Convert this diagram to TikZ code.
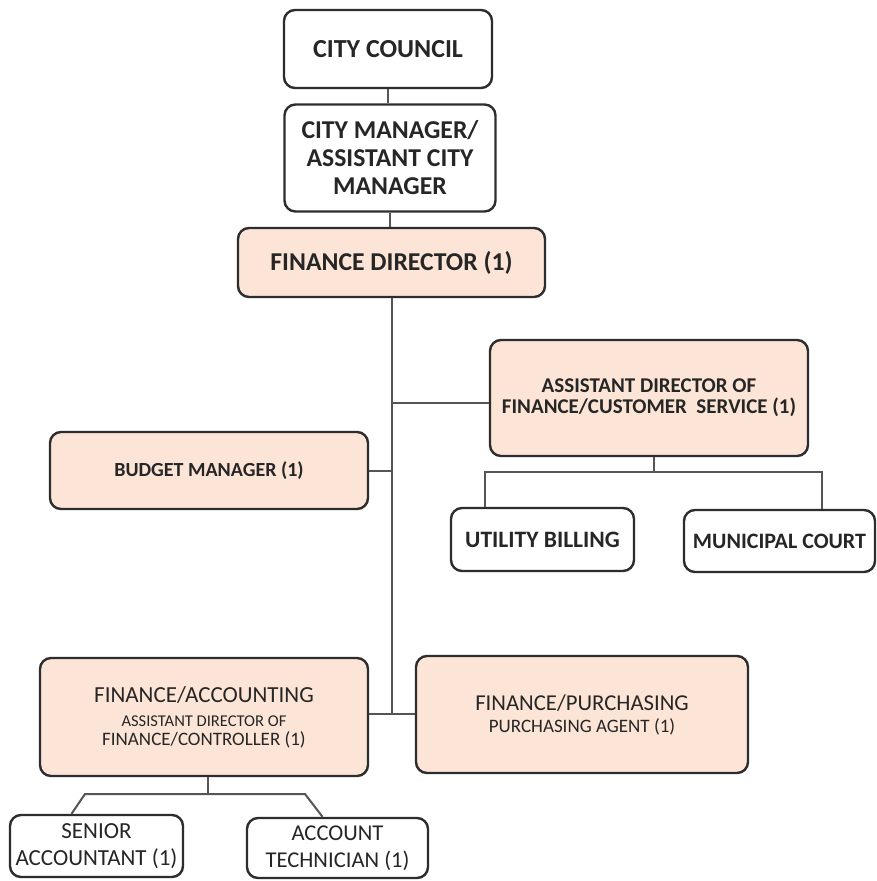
\documentclass[tikz,border=0pt]{standalone}
\usepackage{fontspec}
\setmainfont{Carlito}
\definecolor{peach}{RGB}{252,229,214}
\definecolor{edge}{RGB}{45,45,45}
\definecolor{link}{RGB}{85,85,85}
\begin{document}
\begin{tikzpicture}[x=1pt,y=-1pt,
  box/.style={draw=edge,line width=2.4pt,rounded corners=11pt,fill=white,inner sep=0pt,align=center,text=black!85},
  pbox/.style={box,fill=peach},
  conn/.style={draw=link,line width=2pt}]
\useasboundingbox (0,0) rectangle (877,881);
\fill[white] (0,0) rectangle (877,881);
% nodes
\node[box,minimum width=208pt,minimum height=78pt,font=\bfseries\fontsize{26}{28}\selectfont] (cc) at (388,49) {CITY COUNCIL};
\node[box,minimum width=211pt,minimum height=107pt,font=\bfseries\fontsize{25.7}{28}\selectfont] (cm) at (390,158) {CITY MANAGER/\\ASSISTANT CITY\\MANAGER};
\node[pbox,minimum width=307pt,minimum height=69pt,font=\bfseries\fontsize{25.7}{28}\selectfont] (fd) at (391.5,262.5) {FINANCE DIRECTOR (1)};
\node[pbox,minimum width=318pt,minimum height=116pt,font=\bfseries\fontsize{21}{21}\selectfont] (ad) at (649,398) {ASSISTANT DIRECTOR OF\\FINANCE/CUSTOMER\ \ SERVICE (1)};
\node[pbox,minimum width=318pt,minimum height=77pt,font=\bfseries\fontsize{20}{24}\selectfont] (bm) at (209,470.5) {BUDGET MANAGER (1)};
\node[box,minimum width=183pt,minimum height=63pt,font=\bfseries\fontsize{23.5}{26}\selectfont] (ub) at (542.5,539.5) {UTILITY BILLING};
\node[box,minimum width=191pt,minimum height=62pt,font=\bfseries\fontsize{22}{26}\selectfont] (mc) at (779.5,541) {MUNICIPAL COURT};
\node[pbox,minimum width=328pt,minimum height=118pt,font=\fontsize{19}{18}\selectfont] (fa) at (204,717) {{\fontsize{23}{18}\selectfont FINANCE/ACCOUNTING}\\[6pt]{\fontsize{16.5}{18}\selectfont ASSISTANT DIRECTOR OF}\\[1pt]FINANCE/CONTROLLER (1)};
\node[pbox,minimum width=332pt,minimum height=117pt,font=\fontsize{19}{20}\selectfont] (fp) at (582,714.5) {{\fontsize{22.7}{20}\selectfont FINANCE/PURCHASING}\\[2pt]PURCHASING AGENT (1)};
\node[box,minimum width=173pt,minimum height=62pt,font=\fontsize{23}{27}\selectfont] (sa) at (96.5,846) {SENIOR\\ACCOUNTANT (1)};
\node[box,minimum width=181pt,minimum height=60pt,font=\fontsize{22.6}{27}\selectfont] (at) at (337.5,848) {ACCOUNT\\TECHNICIAN (1)};
% junctions
\coordinate (jl) at (85,794);
\coordinate (jr) at (305,794);
\coordinate (jt) at (654,472);
\coordinate (jb) at (208,794);
% connectors
\draw[conn] (cc.south) -- (cc.south |- cm.north);
\draw[conn] (cm.south) -- (cm.south |- fd.north);
\draw[conn] (fd.south) -- (fd.south |- 0,714);
\draw[conn] (fd.south |- 0,403) -- (ad.west |- 0,403);
\draw[conn] (bm.east) -- (bm.east -| fd.south);
\draw[conn] (fa.east |- 0,714) -- (fp.west |- 0,714);
\draw[conn] (ad.south -| jt) -- (jt);
\draw[conn] ([xshift=-58pt]ub.north) |- (jt) -| ([xshift=42pt]mc.north);
\draw[conn] (fa.south -| jb) -- (jb);
\draw[conn] ([xshift=-25pt]sa.north) -- (jl) -- (jr) -- ([xshift=-15pt]at.north);
\end{tikzpicture}
\end{document}
